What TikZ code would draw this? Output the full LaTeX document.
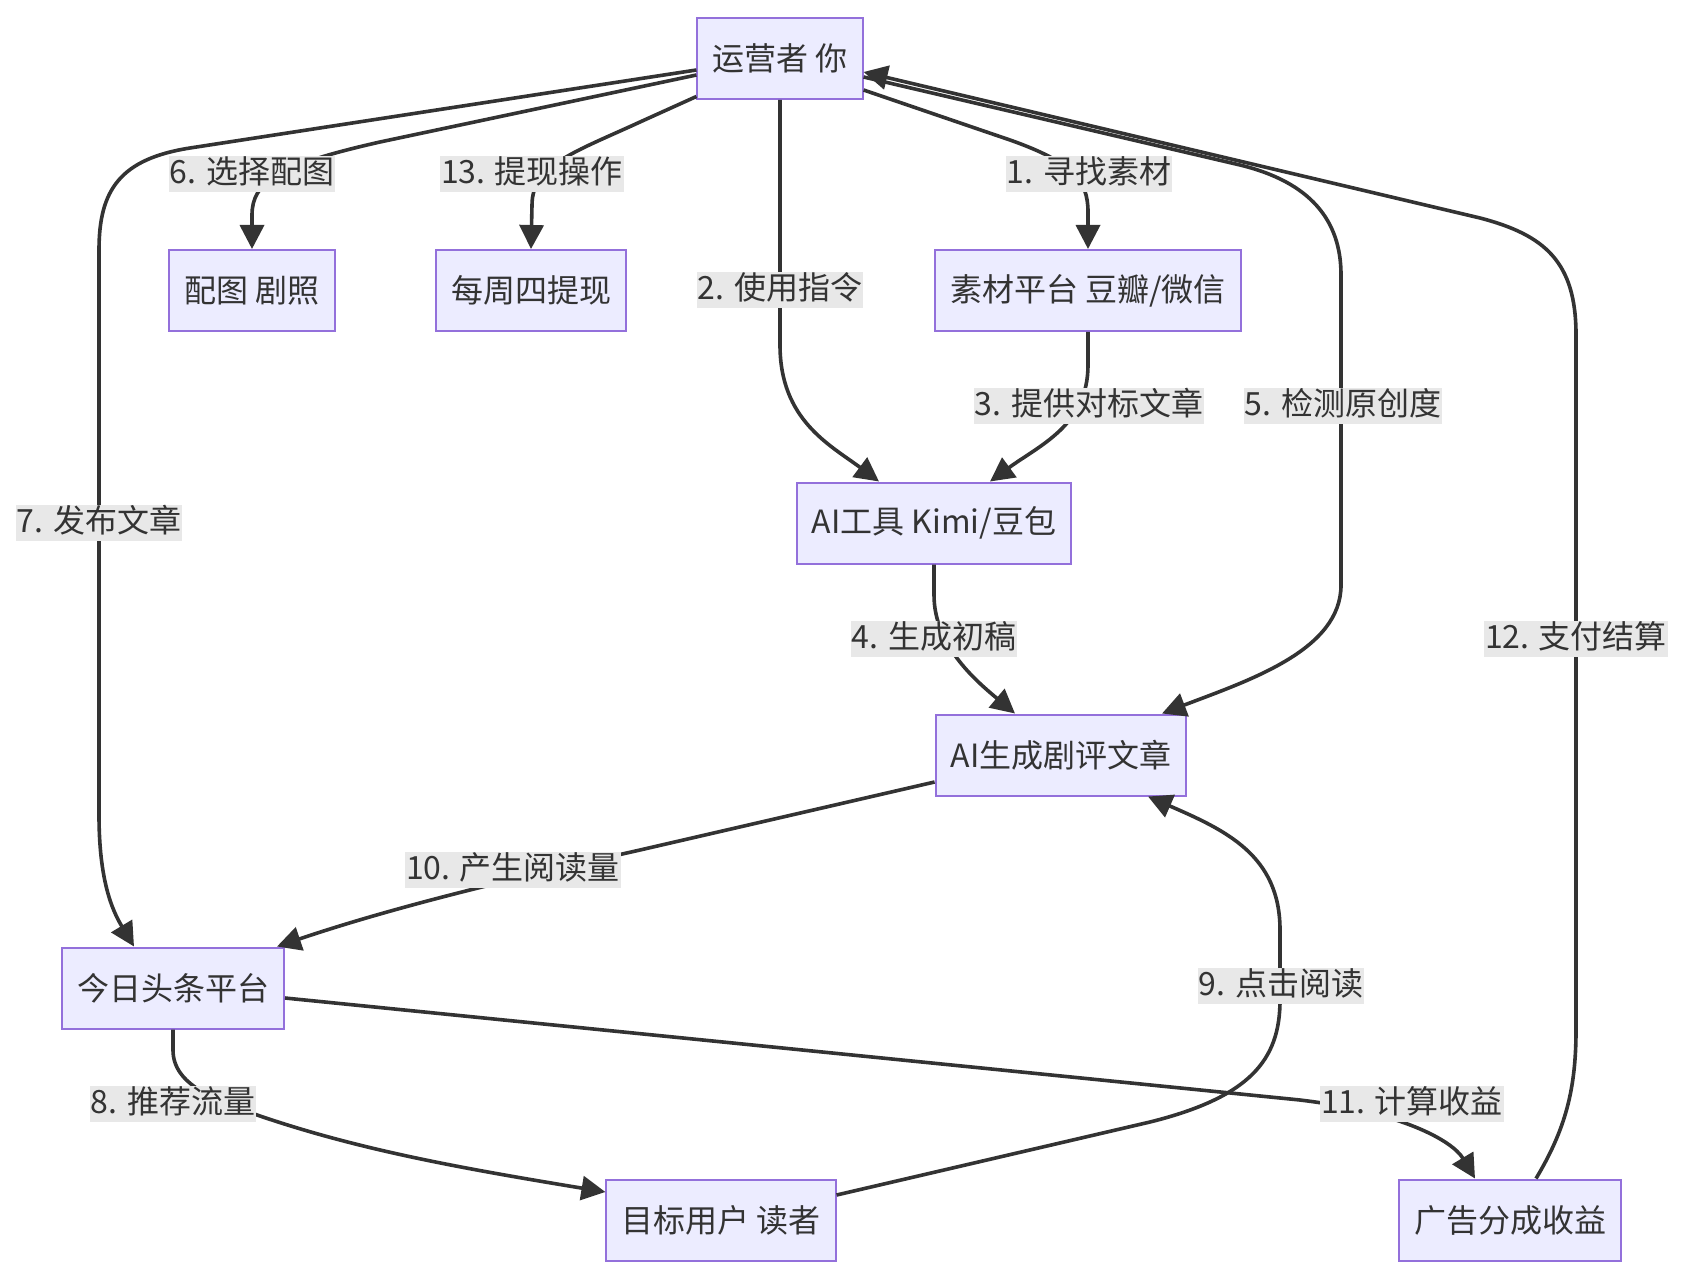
\documentclass[tikz,border=0pt]{standalone}
\usepackage{fontspec}
\newfontfamily\cjk{Noto Sans CJK SC}
\usetikzlibrary{arrows.meta}
\definecolor{boxfill}{HTML}{ECECFF}
\definecolor{boxline}{HTML}{9370DB}
\definecolor{ink}{HTML}{333333}
\definecolor{labelbg}{HTML}{E8E8E8}

\begin{document}
\begin{tikzpicture}[
    x=0.5pt, y=-0.5pt,
    >={Triangle[length=12pt, width=12pt]},
    % Flow boxes
    box/.style={
        rectangle, draw=boxline, line width=1pt, fill=boxfill,
        text=ink, minimum height=40.5pt, inner xsep=7.5pt,
        font=\cjk\fontsize{16pt}{19pt}\selectfont
    },
    % Edge labels
    lab/.style={
        fill=labelbg, text=ink, inner xsep=0.5pt, inner ysep=0pt,
        text height=14pt, text depth=4.3pt,
        font=\cjk\fontsize{16pt}{19pt}\selectfont
    },
    % Arrow
    arr/.style={->, line width=1.8pt, draw=ink},
]
\useasboundingbox (0,0) rectangle (1684,1278);

% ===== BOXES =====
\node[box] (op) at (780,58.5) {运营者 你};
\node[box] (pic) at (252,290.5) {配图 剧照};
\node[box] (wd) at (531,290.5) {每周四提现};
\node[box] (src) at (1088,290.5) {素材平台 豆瓣/微信};
\node[box] (ai) at (934,523) {AI工具 Kimi/豆包};
\node[box] (art) at (1061,755) {AI生成剧评文章};
\node[box] (tt) at (173,988) {今日头条平台};
\node[box] (usr) at (721,1220) {目标用户 读者};
\node[box] (ad) at (1510,1220) {广告分成收益};

% ===== EDGES =====
\draw[arr] ([yshift=-15.75pt]op.east) -- (1010,140)
    .. controls (1072,162) and (1088,180) .. (1088,212) -- (src.north);
\draw[arr] (op.south) -- (780,345)
    .. controls (780,420) and (830,445) .. ([xshift=-27.5pt]ai.north);
\draw[arr] (src.south) -- (1088,365)
    .. controls (1088,425) and (1040,445) .. ([xshift=28pt]ai.north);
\draw[arr] (ai.south) -- (934,595)
    .. controls (934,645) and (975,680) .. ([xshift=-23pt]art.north);
\draw[arr] ([yshift=-9.25pt]op.east) -- (1240,165)
    .. controls (1310,182) and (1341,220) .. (1341,275) -- (1341,585)
    .. controls (1341,650) and (1250,680) .. ([xshift=50.5pt]art.north);
\draw[arr] ([yshift=-8.25pt]op.west) -- (380,142)
    .. controls (278,165) and (252,182) .. (252,215) -- (pic.north);
\draw[arr] ([yshift=-5.75pt]op.west) -- (190,148)
    .. controls (120,159) and (99,190) .. (99,250) -- (99,815)
    .. controls (99,880) and (112,910) .. ([xshift=-19.5pt]tt.north);
\draw[arr] (tt.south) -- (173,1050)
    .. controls (173,1085) and (215,1100) .. (260,1116)
    .. controls (360,1150) and (460,1168) .. ([yshift=14pt]usr.west);
\draw[arr] ([yshift=12.5pt]usr.east) -- (1150,1122)
    .. controls (1250,1097) and (1280,1060) .. (1280,1000) -- (1280,930)
    .. controls (1280,855) and (1225,830) .. ([xshift=43.5pt]art.south);
\draw[arr] ([yshift=-13.5pt]art.west) -- (640,850)
    .. controls (520,877) and (400,905) .. ([xshift=-4pt]tt.north east);
\draw[arr] ([yshift=-5pt]tt.east) -- (1300,1100)
    .. controls (1400,1112) and (1452,1140) .. ([xshift=-17.5pt]ad.north);
\draw[arr] ([xshift=13pt]ad.north)
    .. controls (1565,1130) and (1576,1090) .. (1576,1030) -- (1576,335)
    .. controls (1576,262) and (1545,235) .. (1480,218) -- ([yshift=-6.75pt]op.east);
\draw[arr] ([yshift=-19pt]op.west) -- (640,122)
    .. controls (575,152) and (532,165) .. (532,205) -- (wd.north);

% ===== LABELS =====
\node[lab] (l1) at (1089,174) {1. 寻找素材};
\node[lab] (l2) at (780,290) {2. 使用指令};
\node[lab] (l3) at (1089,406) {3. 提供对标文章};
\node[lab] (l4) at (934,639) {4. 生成初稿};
\node[lab] (l5) at (1343,406) {5. 检测原创度};
\node[lab] (l6) at (252,174) {6. 选择配图};
\node[lab] (l7) at (99,523) {7. 发布文章};
\node[lab] (l8) at (173,1104) {8. 推荐流量};
\node[lab] (l9) at (1281,986) {9. 点击阅读};
\node[lab] (l10) at (513,870) {10. 产生阅读量};
\node[lab] (l11) at (1412,1104) {11. 计算收益};
\node[lab] (l12) at (1576,639) {12. 支付结算};
\node[lab] (l13) at (532,174) {13. 提现操作};

\end{tikzpicture}
\end{document}
